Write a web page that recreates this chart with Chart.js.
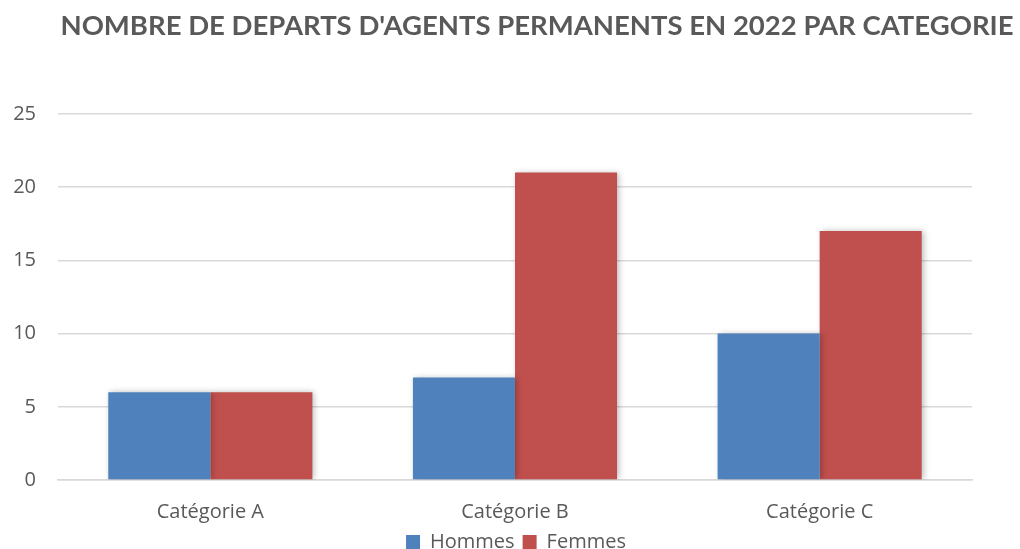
<!DOCTYPE html>
<html><head><meta charset="utf-8">
<script src="https://cdn.jsdelivr.net/npm/chart.js@4"></script>
<style>html,body{margin:0;padding:0;background:#fff}#wrap{width:1020px;height:549px}</style>
</head><body><div id="wrap"><canvas id="c"></canvas></div>
<script>
const titleText = "NOMBRE DE DEPARTS D'AGENTS PERMANENTS EN 2022 PAR CATEGORIE";
const categories = ["Catégorie A", "Catégorie B", "Catégorie C"];
const hommes = [6, 7, 10];
const femmes = [6, 21, 17];
const seriesNames = ["Hommes", "Femmes"];

const titlePlugin = {
  id: 'customTitle',
  afterDraw(chart) {
    const ctx = chart.ctx;
    ctx.save();
    ctx.font = 'bold 27.5px Lato';
    ctx.fillStyle = '#595959';
    ctx.textAlign = 'center';
    ctx.textBaseline = 'middle';
    ctx.fillText(titleText, 537, 26);
    ctx.restore();
  }
};
const shadowPlugin = {
  id: 'shadow',
  beforeDatasetsDraw(chart) {
    const ctx = chart.ctx;
    ctx.save();
    ctx.shadowColor = 'rgba(0,0,0,0.25)';
    ctx.shadowBlur = 6;
    ctx.shadowOffsetX = 2;
    ctx.shadowOffsetY = 0;
  },
  afterDatasetsDraw(chart) { chart.ctx.restore(); }
};

new Chart(document.getElementById('c'), {
  type: 'bar',
  data: {
    labels: categories,
    datasets: [
      { label: seriesNames[0], data: hommes, backgroundColor: '#4F81BD' },
      { label: seriesNames[1], data: femmes, backgroundColor: '#C0504D' }
    ]
  },
  options: {
    responsive: true,
    maintainAspectRatio: false,
    animation: false,
    layout: { padding: { top: 114, left: 12, right: 0, bottom: 0 } },
    datasets: { bar: { categoryPercentage: 0.67, barPercentage: 1.0 } },
    scales: {
      x: {
        grid: { display: false, drawTicks: false },
        border: { display: true, color: '#D9D9D9', width: 1.5 },
        ticks: { color: '#595959', font: { family: 'Open Sans', size: 20 }, padding: 20 },
        afterFit(scale) { scale.height = 44; }
      },
      y: {
        min: 0, max: 25,
        ticks: { stepSize: 5, color: '#595959', font: { family: 'Open Sans', size: 20 }, padding: 22 },
        grid: { color: '#D9D9D9', lineWidth: 1.5, drawTicks: false },
        border: { display: false },
        afterFit(scale) { scale.width = 46; }
      },
      spacer: {
        type: 'linear',
        position: 'right',
        display: true,
        ticks: { display: false },
        grid: { display: false, drawTicks: false },
        border: { display: false },
        afterFit(scale) { scale.width = 48; }
      }
    },
    plugins: {
      legend: {
        position: 'bottom',
        maxHeight: 25,
        labels: { color: '#595959', font: { family: 'Open Sans', size: 20 }, boxWidth: 14, boxHeight: 14, padding: 8 }
      },
      tooltip: { enabled: false }
    }
  },
  plugins: [titlePlugin, shadowPlugin]
});
</script></body></html>
